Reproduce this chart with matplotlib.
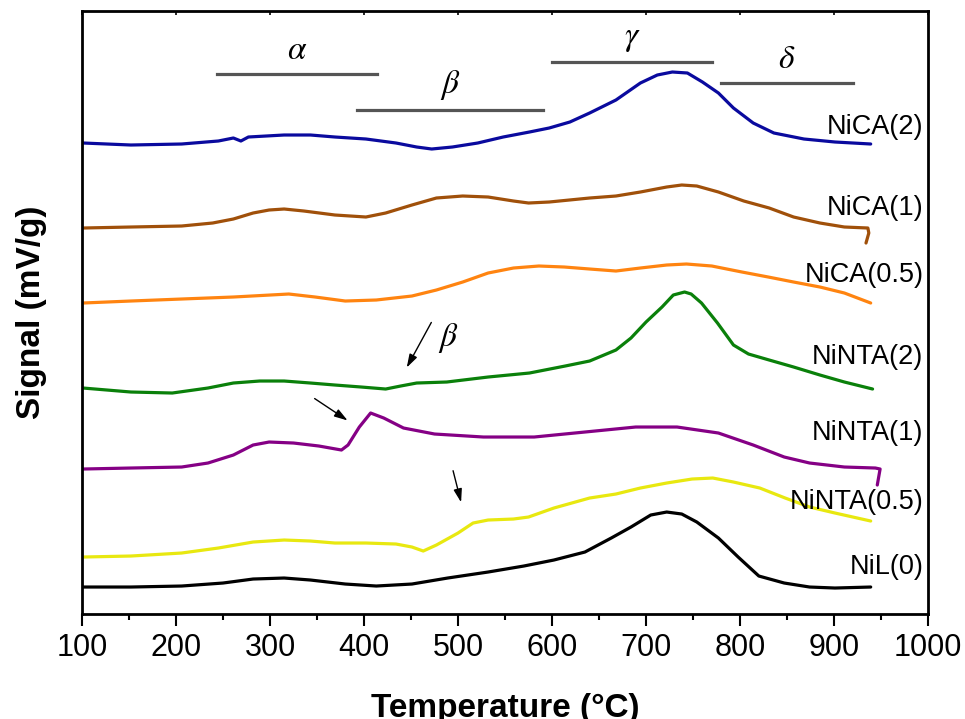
import matplotlib.pyplot as plt

# TPR traces, temperature (°C) and stacked signal (offset, arbitrary units)
nica2_t = [101, 152, 206, 245, 261, 269, 277, 315, 343, 369, 402, 434, 456, 472, 494, 521,
           548, 576, 597, 619, 640, 668, 694, 712, 728, 744, 760, 777, 793, 814, 836, 868,
           901, 939]
nica2_s = [471, 469, 470, 473, 476, 473, 477, 479, 479, 477, 475, 471, 467, 465, 467, 471,
           477, 482, 486, 492, 501, 514, 531, 539, 542, 541, 532, 521, 506, 491, 481, 475,
           472, 470]

nica1_t = [101, 152, 206, 239, 261, 282, 299, 315, 336, 369, 402, 423, 451, 477, 505, 532,
           559, 575, 597, 640, 668, 694, 722, 738, 754, 777, 804, 831, 857, 885, 911, 936,
           937, 934]
nica1_s = [386, 387, 388, 391, 395, 401, 404, 405, 403, 399, 397, 401, 409, 416, 418, 417,
           413, 411, 412, 416, 418, 422, 427, 429, 428, 422, 413, 406, 397, 391, 387, 386,
           381, 371]

nica05_t = [101, 152, 206, 261, 320, 348, 380, 413, 451, 477, 505, 532, 559, 586, 613, 640,
            668, 694, 722, 743, 770, 802, 830, 857, 885, 911, 939]
nica05_s = [311, 313, 315, 317, 320, 317, 313, 314, 318, 324, 332, 341, 346, 348, 347, 345,
            343, 346, 349, 350, 348, 342, 337, 332, 327, 321, 311]

ninta2_t = [101, 152, 196, 234, 261, 289, 315, 343, 369, 397, 423, 439, 456, 488, 532, 576,
            614, 640, 668, 684, 700, 717, 729, 741, 748, 759, 776, 793, 809, 831, 857, 885,
            911, 941]
ninta2_s = [226, 222, 221, 226, 231, 233, 233, 231, 229, 227, 225, 228, 231, 232, 237, 241,
            248, 253, 264, 276, 292, 307, 319, 322, 320, 311, 291, 269, 260, 254, 247, 239,
            232, 225]

ninta1_t = [101, 152, 206, 234, 261, 282, 299, 325, 352, 376, 383, 395, 407, 421, 442, 475,
            527, 581, 635, 689, 733, 777, 814, 847, 874, 911, 944, 949, 946]
ninta1_s = [145, 146, 147, 151, 159, 169, 172, 171, 168, 164, 169, 187, 201, 196, 186, 180,
            177, 177, 182, 187, 187, 181, 169, 157, 151, 147, 146, 145, 129]

ninta05_t = [101, 152, 206, 245, 282, 315, 343, 369, 402, 434, 451, 463, 477, 500, 516, 532,
             559, 575, 602, 640, 668, 694, 722, 749, 771, 793, 821, 848, 874, 901, 939]
ninta05_s = [57, 58, 61, 66, 72, 74, 73, 71, 71, 70, 67, 63, 69, 81, 91, 94,
             95, 97, 106, 116, 120, 126, 131, 135, 136, 132, 126, 116, 107, 101, 93]

nil0_t = [101, 152, 206, 250, 282, 315, 343, 380, 413, 451, 489, 532, 570, 602, 635, 663,
          684, 705, 722, 738, 754, 777, 798, 820, 847, 874, 901, 939]
nil0_s = [27, 27, 28, 31, 35, 36, 34, 30, 28, 30, 36, 42, 48, 54, 62, 76,
          87, 99, 102, 100, 92, 76, 57, 38, 31, 27, 26, 27]

series = [
    ("NiCA(2)", nica2_t, nica2_s, "#0A0A9E", 487),
    ("NiCA(1)", nica1_t, nica1_s, "#A0500A", 406),
    ("NiCA(0.5)", nica05_t, nica05_s, "#FF8410", 339),
    ("NiNTA(2)", ninta2_t, ninta2_s, "#0A800A", 257),
    ("NiNTA(1)", ninta1_t, ninta1_s, "#850085", 181),
    ("NiNTA(0.5)", ninta05_t, ninta05_s, "#E8E810", 112),
    ("NiL(0)", nil0_t, nil0_s, "#000000", 47),
]

# reduction regions: (symbol, T start, T end, bar level)
regions = [
    (r"$\alpha$", 244, 414, 540),
    (r"$\beta$", 393, 590, 504),
    (r"$\gamma$", 600, 770, 552),
    (r"$\delta$", 780, 920, 531),
]

plt.rcParams["mathtext.fontset"] = "stix"
plt.rcParams["font.family"] = "Liberation Sans"

fig = plt.figure(figsize=(9.65, 7.19), dpi=100)
ax = fig.add_axes([0.085, 0.146, 0.8767, 0.8387])

for name, t, s, color, ylab in series:
    ax.plot(t, s, color=color, lw=2.3, solid_capstyle="round", solid_joinstyle="round")
    ax.text(995, ylab, name, ha="right", va="center", fontsize=19.5)

for sym, t0, t1, lvl in regions:
    ax.plot([t0, t1], [lvl, lvl], color="#555555", lw=2.3)
    ax.text((t0 + t1) / 2, lvl + 8, sym, ha="center", va="bottom", fontsize=24)

arrow_kw = dict(arrowstyle="-|>,head_length=0.8,head_width=0.25", color="black", lw=1.0)
ax.annotate("", xy=(444, 244), xytext=(473, 294), arrowprops=arrow_kw)
ax.annotate("", xy=(385, 192), xytext=(345, 217), arrowprops=arrow_kw)
ax.annotate("", xy=(504, 109), xytext=(494, 146), arrowprops=arrow_kw)
ax.text(490, 276, r"$\beta$", ha="center", va="center", fontsize=24)

ax.set_xlim(100, 1000)
ax.set_ylim(0, 603)
ax.set_xticks(range(100, 1001, 100))
ax.set_xticks(range(150, 1000, 100), minor=True)
ax.set_yticks([])
ax.tick_params(axis="x", which="major", direction="out", length=8.5, width=1.5,
               labelsize=22, pad=5)
ax.tick_params(axis="x", which="minor", direction="out", length=4, width=1.5)
for sp in ax.spines.values():
    sp.set_linewidth(2)

top = ax.secondary_xaxis("top")
top.set_xticks(range(100, 1001, 100))
top.tick_params(direction="in", length=3, width=1.2, labeltop=False)

ax.set_xlabel("Temperature (°C)", fontsize=24, fontweight="bold", labelpad=22)
ax.set_ylabel("Signal (mV/g)", fontsize=24, fontweight="bold", labelpad=25)

fig.savefig("out.png", dpi=100)
